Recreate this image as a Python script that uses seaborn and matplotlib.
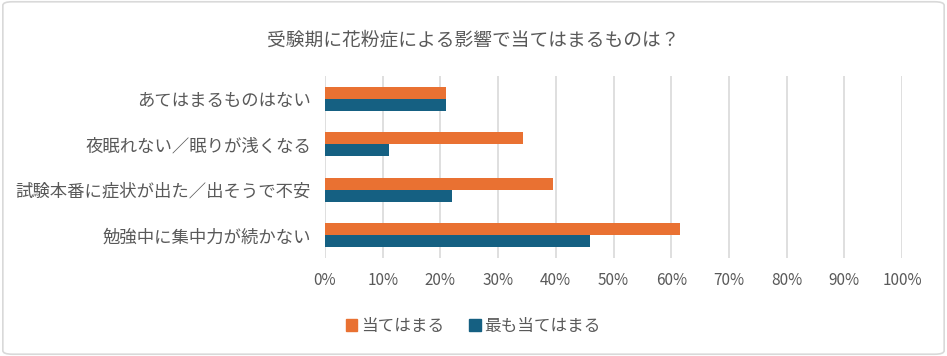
import matplotlib
matplotlib.use("Agg")
import matplotlib.pyplot as plt
import matplotlib.patches as mpatches
import seaborn as sns
import pandas as pd

categories = ["あてはまるものはない", "夜眠れない／眠りが浅くなる", "試験本番に症状が出た／出そうで不安", "勉強中に集中力が続かない"]
series_names = ["当てはまる", "最も当てはまる"]
applies = [21.0, 34.4, 39.5, 61.5]
most_applies = [21.0, 11.1, 22.0, 45.9]
x_ticks = [0, 10, 20, 30, 40, 50, 60, 70, 80, 90, 100]
x_tick_labels = [f"{t}%" for t in x_ticks]
title = "受験期に花粉症による影響で当てはまるものは？"

colors = ["#E97132", "#156082"]
text_color = "#595959"

sns.set_theme(style="white")
plt.rcParams['font.family'] = ['Noto Sans CJK JP', 'DejaVu Sans']

df = pd.DataFrame({
    "category": categories * 2,
    "value": applies + most_applies,
    "series": [series_names[0]] * len(categories) + [series_names[1]] * len(categories),
})

fig = plt.figure(figsize=(9.47, 3.56), dpi=100)
ax = fig.add_axes([325/947, 1 - 258/356, (902-325)/947, (258-76)/356])

sns.barplot(data=df, y="category", x="value", hue="series", order=categories,
            hue_order=series_names, palette=colors, orient="h", width=0.53,
            gap=0, saturation=1, ax=ax, legend=False, linewidth=0, edgecolor="none")

ax.set_xlim(0, 100)
ax.set_ylim(len(categories) - 0.5, -0.5)
ax.set_xticks(x_ticks)
ax.set_xticklabels(x_tick_labels)
ax.grid(axis="x", color="#D9D9D9", linewidth=1.2)
ax.set_axisbelow(True)
for s in ax.spines.values():
    s.set_visible(False)
ax.set_xlabel("")
ax.set_ylabel("")
ax.tick_params(axis="x", length=0, pad=10, labelsize=11, labelcolor=text_color)
ax.tick_params(axis="y", length=0, pad=10, labelsize=12.5, labelcolor=text_color)

fig.text(0.5, 1 - 40/356, title, ha="center", va="center", fontsize=13.5, color=text_color)

handles = [mpatches.Patch(color=c, label=n) for c, n in zip(colors, series_names)]
fig.legend(handles=handles, loc="center", bbox_to_anchor=(473/947, 1 - 326/356), ncol=2,
           frameon=False, fontsize=12, handlelength=0.7, handleheight=0.7,
           handletextpad=0.2, columnspacing=1.5, labelcolor=text_color)

border = mpatches.FancyBboxPatch((0.003, 0.005), 0.994, 0.99, boxstyle="round,pad=0,rounding_size=0.01",
                                 transform=fig.transFigure, fill=False, edgecolor="#D9D9D9", linewidth=1.2)
fig.patches.append(border)

fig.savefig("out.png", dpi=100)
